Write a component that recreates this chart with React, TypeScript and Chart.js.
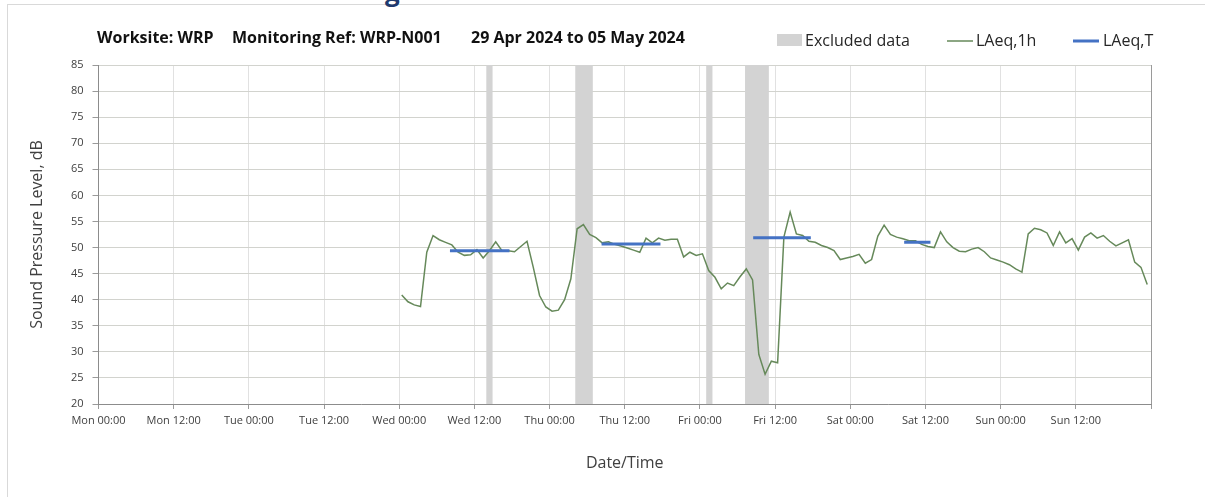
import React, { useEffect, useRef } from "react";
import { Chart, registerables } from "chart.js";

Chart.register(...registerables);

// x axis: hours from Mon 00:00 (29 Apr 2024)
const tickLabels = [
  "Mon 00:00", "Mon 12:00", "Tue 00:00", "Tue 12:00", "Wed 00:00", "Wed 12:00",
  "Thu 00:00", "Thu 12:00", "Fri 00:00", "Fri 12:00", "Sat 00:00", "Sat 12:00",
  "Sun 00:00", "Sun 12:00", "",
];

const laeq1hStartHour = 48.4;
const laeq1h = [
  40.9, 39.6, 39.0, 38.7, 49.1, 52.3, 51.5, 51.0, 50.5, 49.1,
  48.5, 48.6, 49.6, 48.0, 49.4, 51.1, 49.4, 49.4, 49.2, 50.2,
  51.2, 46.2, 40.8, 38.6, 37.8, 38.0, 40.0, 44.0, 53.6, 54.4,
  52.5, 51.9, 50.9, 51.1, 50.6, 50.3, 49.9, 49.5, 49.1, 51.8,
  50.9, 51.8, 51.4, 51.6, 51.6, 48.2, 49.1, 48.5, 48.8, 45.6,
  44.3, 42.1, 43.2, 42.7, 44.4, 45.9, 43.8, 29.5, 25.7, 28.2,
  27.9, 52.0, 56.8, 52.6, 52.3, 51.2, 51.0, 50.4, 50.0, 49.4,
  47.7, 48.0, 48.3, 48.7, 47.0, 47.7, 52.2, 54.3, 52.5, 52.0,
  51.7, 51.3, 51.3, 50.6, 50.2, 50.0, 53.0, 51.1, 50.0, 49.3,
  49.2, 49.7, 50.0, 49.2, 48.0, 47.6, 47.2, 46.7, 45.9, 45.3,
  52.6, 53.7, 53.4, 52.8, 50.4, 53.0, 50.9, 51.7, 49.5, 52.0,
  52.8, 51.8, 52.3, 51.2, 50.3, 50.9, 51.5, 47.2, 46.2, 42.9,
];

const laeqTStart = [56.1, 80.3, 104.5, 128.6];
const laeqTEnd = [65.6, 89.7, 113.7, 132.8];
const laeqTValue = [49.4, 50.7, 51.9, 51.0];

const excludedStart = [61.9, 76.1, 97.0, 103.2];
const excludedEnd = [62.9, 78.9, 98.0, 107.0];

const GREEN = "#66895a";
const BLUE = "#4472c4";
const GREY_BAND = "#d3d3d3";
const FONT = "'Open Sans', 'DejaVu Sans', sans-serif";

const bandsPlugin = {
  id: "excludedBands",
  beforeDatasetsDraw(chart: any) {
    const { ctx, chartArea, scales } = chart;
    ctx.save();
    ctx.fillStyle = GREY_BAND;
    for (let i = 0; i < excludedStart.length; i++) {
      const x1 = scales.x.getPixelForValue(excludedStart[i]);
      const x2 = scales.x.getPixelForValue(excludedEnd[i]);
      ctx.fillRect(x1, chartArea.top, x2 - x1, chartArea.bottom - chartArea.top);
    }
    ctx.restore();
  },
};

const headerPlugin = {
  id: "header",
  afterDraw(chart: any) {
    const { ctx } = chart;
    ctx.save();
    ctx.textBaseline = "middle";
    ctx.fillStyle = "#111111";
    ctx.font = `bold 16px ${FONT}`;
    ctx.fillText("Worksite: WRP", 97, 38, 121);
    ctx.fillText("Monitoring Ref: WRP-N001", 232, 38, 220);
    ctx.fillText("29 Apr 2024 to 05 May 2024", 471, 38, 217);

    ctx.font = `16px ${FONT}`;
    ctx.fillStyle = GREY_BAND;
    ctx.fillRect(777, 34, 25, 12);
    ctx.fillStyle = "#262626";
    ctx.fillText("Excluded data", 805, 41, 108);

    ctx.strokeStyle = GREEN;
    ctx.lineWidth = 1.5;
    ctx.beginPath();
    ctx.moveTo(947, 41);
    ctx.lineTo(973, 41);
    ctx.stroke();
    ctx.fillText("LAeq,1h", 976, 41, 64);

    ctx.strokeStyle = BLUE;
    ctx.lineWidth = 3;
    ctx.beginPath();
    ctx.moveTo(1073, 41);
    ctx.lineTo(1099, 41);
    ctx.stroke();
    ctx.fillText("LAeq,T", 1103, 41, 56);
    ctx.restore();
  },
};

export default function App() {
  const canvasRef = useRef<HTMLCanvasElement | null>(null);

  useEffect(() => {
    const canvas = canvasRef.current;
    if (!canvas) return;

    const laeqTData: any[] = [];
    for (let i = 0; i < laeqTStart.length; i++) {
      laeqTData.push({ x: laeqTStart[i], y: laeqTValue[i] });
      laeqTData.push({ x: laeqTEnd[i], y: laeqTValue[i] });
      laeqTData.push({ x: laeqTEnd[i] + 0.5, y: null });
    }

    const chart = new Chart(canvas, {
      type: "line",
      data: {
        datasets: [
          {
            label: "LAeq,T",
            data: laeqTData,
            borderColor: BLUE,
            backgroundColor: BLUE,
            borderWidth: 3,
            pointRadius: 0,
            spanGaps: false,
            fill: false,
          },
          {
            label: "LAeq,1h",
            data: laeq1h.map((v, i) => ({ x: laeq1hStartHour + i, y: v })),
            borderColor: GREEN,
            backgroundColor: GREEN,
            borderWidth: 1.5,
            pointRadius: 0,
            tension: 0,
            fill: false,
          },
        ],
      },
      options: {
        responsive: false,
        animation: false,
        events: [],
        layout: { padding: { left: 0, top: 65, right: 54, bottom: 0 } },
        plugins: {
          legend: { display: false },
          tooltip: { enabled: false },
          title: { display: false },
        },
        scales: {
          x: {
            type: "linear",
            min: 0,
            max: 168,
            afterFit(scale: any) {
              scale.height = 93;
            },
            ticks: {
              stepSize: 12,
              autoSkip: false,
              maxRotation: 0,
              minRotation: 0,
              padding: 5,
              color: "#404040",
              font: { family: FONT, size: 11 },
              callback: (v: any) => {
                const idx = Math.round(Number(v) / 12);
                return tickLabels[idx] ?? "";
              },
            },
            grid: {
              color: (c: any) => (c.tick && c.tick.value === 168 ? "#9a9a9a" : "#e1e1e1"),
              tickColor: "#9a9a9a",
              tickLength: 5,
              drawTicks: true,
            },
            border: { color: "#8c8c8c", width: 1 },
            title: {
              display: true,
              text: "Date/Time",
              color: "#404040",
              font: { family: FONT, size: 16 },
              padding: { top: 0, bottom: 24 },
            },
          },
          y: {
            min: 20,
            max: 85,
            afterFit(scale: any) {
              scale.width = 98.5;
            },
            ticks: {
              stepSize: 5,
              padding: 9,
              color: "#404040",
              font: { family: FONT, size: 11 },
            },
            grid: {
              color: "#d2d3ce",
              tickColor: "#9a9a9a",
              tickLength: 6,
              drawTicks: true,
            },
            border: { color: "#8c8c8c", width: 1 },
            title: {
              display: true,
              text: "Sound Pressure Level, dB",
              color: "#404040",
              font: { family: FONT, size: 16 },
              padding: { top: 28, bottom: 0 },
            },
          },
        },
      },
      plugins: [bandsPlugin, headerPlugin],
    } as any);

    return () => chart.destroy();
  }, []);

  return (
    <div
      style={{
        position: "absolute",
        left: 0,
        top: 0,
        width: 1205,
        height: 497,
        background: "#ffffff",
        overflow: "hidden",
      }}
    >
      <div
        style={{
          position: "absolute",
          left: 7,
          top: 4,
          width: 1198,
          height: 493,
          borderTop: "1px solid #d9d9d9",
          borderLeft: "1px solid #d9d9d9",
        }}
      />
      <div
        style={{
          position: "absolute",
          left: 385,
          top: -24,
          fontFamily: FONT,
          fontWeight: 700,
          fontSize: 26,
          lineHeight: "30px",
          color: "#1f3a6e",
        }}
      >
        g
      </div>
      <canvas
        ref={canvasRef}
        width={1205}
        height={497}
        style={{ position: "absolute", left: 0, top: 0, width: 1205, height: 497 }}
      />
    </div>
  );
}
